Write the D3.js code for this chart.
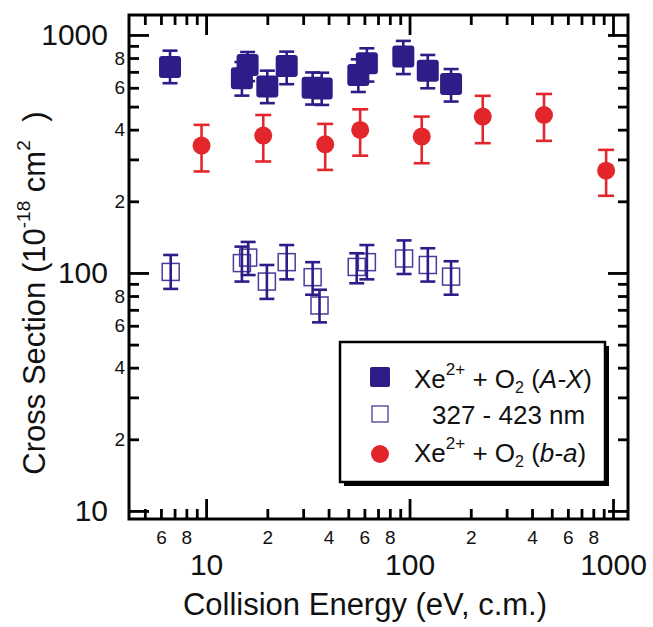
<!DOCTYPE html>
<html>
<head>
<meta charset="utf-8">
<script src="https://cdn.jsdelivr.net/npm/d3@7"></script>
<style>
  body { margin: 0; background: #fff; }
  svg { font-family: "Liberation Sans", Arial, sans-serif; }
</style>
</head>
<body>
<svg id="chart" width="653" height="627"></svg>
<script>
// Xe2+ + O2 (A-X), filled squares
const axEnergy = [6.65, 15.0, 16.0, 20.0, 24.9, 33.4, 37.0, 56.0, 61.7, 93.2, 122.9, 160];
const axSigma  = [734, 658, 748, 607, 741, 600, 595, 679, 760, 811, 708, 622];
const axLow    = [627, 556, 640, 517, 621, 510, 508, 576, 637, 685, 597, 525];
const axHigh   = [859, 770, 848, 708, 851, 696, 694, 790, 879, 944, 824, 719];

// 327 - 423 nm band, open squares
const bandEnergy = [6.7, 15.0, 16.1, 19.9, 24.9, 33.4, 36.1, 55.0, 61.7, 94, 123, 160];
const bandSigma  = [101, 110, 116, 92, 111, 96, 73, 106, 111, 115, 108, 96.5];
const bandLow    = [85.7, 92, 98, 77.8, 94, 81, 62, 90.5, 94, 99, 92, 81];
const bandHigh   = [119, 129, 135, 108, 131, 111, 85, 121, 131, 137, 127, 112];

// Xe2+ + O2 (b-a), red circles
const baEnergy = [9.5, 19.1, 38.5, 57.2, 114.8, 229, 458, 925];
const baSigma  = [343, 378, 347, 399, 374, 454, 461, 269];
const baLow    = [267, 294, 271, 311, 289, 351, 359, 211];
const baHigh   = [419, 461, 423, 487, 454, 555, 565, 329];

const xMajorTicks = [10, 100, 1000];
const xMinorLabels = [6, 8, 20, 40, 60, 80, 200, 400, 600, 800];
const yMajorTicks = [10, 100, 1000];
const yMinorLabels = [20, 40, 60, 80, 200, 400, 600, 800];

const navy = '#2e1c88';
const red = '#e3262b';

const svg = d3.select('#chart');
const pLeft = 129, pRight = 628, pTop = 15, pBottom = 519;

const x = d3.scaleLog().domain([4.18, 1185]).range([pLeft, pRight]);
const y = d3.scaleLog().domain([9.25, 1213]).range([pBottom, pTop]);

const isMajor = (d) => Math.abs(Math.log10(d) - Math.round(Math.log10(d))) < 1e-9;
const leading = (d) => String(Math.round(d / Math.pow(10, Math.floor(Math.log10(d) + 1e-9))));

const xMinor = x.ticks().filter((d) => !isMajor(d));
const yMinor = y.ticks().filter((d) => !isMajor(d));

function styleAxis(g) {
  g.select('.domain').remove();
  g.selectAll('.tick line').attr('stroke', '#000').attr('stroke-width', 2.8);
  g.selectAll('.tick text').attr('fill', '#111');
}

// bottom
svg.append('g').attr('transform', `translate(0,${pBottom})`)
  .call(d3.axisBottom(x).tickValues(xMinor).tickSize(-10).tickPadding(12)
    .tickFormat((d) => xMinorLabels.includes(d) ? leading(d) : ''))
  .call(styleAxis).attr('font-size', 19).attr('font-family', null);
svg.append('g').attr('transform', `translate(0,${pBottom})`)
  .call(d3.axisBottom(x).tickValues(xMajorTicks).tickSize(-20).tickPadding(35)
    .tickFormat(d3.format('d')))
  .call(styleAxis).attr('font-size', 30).attr('font-family', null);
// top
svg.append('g').attr('transform', `translate(0,${pTop})`)
  .call(d3.axisTop(x).tickValues(xMinor).tickSize(-10).tickFormat(''))
  .call(styleAxis);
svg.append('g').attr('transform', `translate(0,${pTop})`)
  .call(d3.axisTop(x).tickValues(xMajorTicks).tickSize(-20).tickFormat(''))
  .call(styleAxis);
// left
svg.append('g').attr('transform', `translate(${pLeft},0)`)
  .call(d3.axisLeft(y).tickValues(yMinor).tickSize(-10).tickPadding(4)
    .tickFormat((d) => yMinorLabels.includes(d) ? leading(d) : ''))
  .call(styleAxis).attr('font-size', 19).attr('font-family', null);
svg.append('g').attr('transform', `translate(${pLeft},0)`)
  .call(d3.axisLeft(y).tickValues(yMajorTicks).tickSize(-20).tickPadding(21)
    .tickFormat(d3.format('d')))
  .call(styleAxis).attr('font-size', 30).attr('font-family', null);
// right
svg.append('g').attr('transform', `translate(${pRight},0)`)
  .call(d3.axisRight(y).tickValues(yMinor).tickSize(-10).tickFormat(''))
  .call(styleAxis);
svg.append('g').attr('transform', `translate(${pRight},0)`)
  .call(d3.axisRight(y).tickValues(yMajorTicks).tickSize(-20).tickFormat(''))
  .call(styleAxis);

// frame
svg.append('rect')
  .attr('x', pLeft).attr('y', pTop)
  .attr('width', pRight - pLeft).attr('height', pBottom - pTop)
  .attr('fill', 'none').attr('stroke', '#000').attr('stroke-width', 3);

// error bars
function errorBars(energy, low, high, color, cap) {
  const g = svg.append('g').attr('stroke', color).attr('stroke-width', 2.6).attr('fill', 'none');
  energy.forEach((e, i) => {
    const cx = x(e);
    g.append('line').attr('x1', cx).attr('x2', cx).attr('y1', y(low[i])).attr('y2', y(high[i]));
    g.append('line').attr('x1', cx - cap / 2).attr('x2', cx + cap / 2).attr('y1', y(low[i])).attr('y2', y(low[i]));
    g.append('line').attr('x1', cx - cap / 2).attr('x2', cx + cap / 2).attr('y1', y(high[i])).attr('y2', y(high[i]));
  });
}

// A-X filled squares
errorBars(axEnergy, axLow, axHigh, navy, 15);
svg.append('g').selectAll('rect')
  .data(axEnergy)
  .enter()
  .append('rect')
  .attr('x', (d) => x(d) - 11)
  .attr('y', (d, i) => y(axSigma[i]) - 11)
  .attr('width', 22).attr('height', 22)
  .attr('rx', 3)
  .attr('fill', navy);

// band open squares
svg.append('g').selectAll('rect')
  .data(bandEnergy)
  .enter()
  .append('rect')
  .attr('x', (d) => x(d) - 8.5)
  .attr('y', (d, i) => y(bandSigma[i]) - 8.5)
  .attr('width', 17).attr('height', 17)
  .attr('fill', 'none')
  .attr('stroke', '#4a3c9c').attr('stroke-width', 1.5);
errorBars(bandEnergy, bandLow, bandHigh, navy, 15);

// b-a red circles
errorBars(baEnergy, baLow, baHigh, red, 16);
svg.append('g').selectAll('circle')
  .data(baEnergy)
  .enter()
  .append('circle')
  .attr('cx', (d) => x(d))
  .attr('cy', (d, i) => y(baSigma[i]))
  .attr('r', 9)
  .attr('fill', red);

// legend
const lg = svg.append('g');
lg.append('rect').attr('x', 344).attr('y', 346).attr('width', 265).attr('height', 140).attr('fill', '#000');
lg.append('rect').attr('x', 340).attr('y', 342).attr('width', 265).attr('height', 140)
  .attr('fill', '#fff').attr('stroke', '#000').attr('stroke-width', 2.5);
lg.append('rect').attr('x', 370).attr('y', 367).attr('width', 20).attr('height', 20).attr('rx', 2).attr('fill', navy);
lg.append('rect').attr('x', 372).attr('y', 406).attr('width', 16).attr('height', 16)
  .attr('fill', 'none').attr('stroke', '#4a3c9c').attr('stroke-width', 1.3);
lg.append('circle').attr('cx', 380).attr('cy', 454).attr('r', 9).attr('fill', red);

function reaction(yb, label) {
  const t = lg.append('text').attr('x', 414).attr('y', yb).attr('font-size', 26).attr('fill', '#111');
  t.append('tspan').text('Xe');
  t.append('tspan').attr('font-size', 17).attr('dy', -13).text('2+');
  t.append('tspan').attr('dy', 13).text(' + O');
  t.append('tspan').attr('font-size', 16).attr('dy', 5).text('2');
  t.append('tspan').attr('dy', -5).text(' (');
  t.append('tspan').attr('font-style', 'italic').text(label);
  t.append('tspan').text(')');
}
reaction(388, 'A-X');
lg.append('text').attr('x', 432).attr('y', 424).attr('font-size', 26).attr('fill', '#111').text('327 - 423 nm');
reaction(462, 'b-a');

// axis titles
svg.append('text')
  .attr('x', 365).attr('y', 615)
  .attr('text-anchor', 'middle').attr('font-size', 31).attr('fill', '#111')
  .text('Collision Energy (eV, c.m.)');

const yt = svg.append('text')
  .attr('transform', 'translate(45,293) rotate(-90)')
  .attr('text-anchor', 'middle').attr('font-size', 31).attr('fill', '#111');
yt.append('tspan').text('Cross Section (10');
yt.append('tspan').attr('font-size', 19).attr('dy', -15).text('-18');
yt.append('tspan').attr('dy', 15).text(' cm');
yt.append('tspan').attr('font-size', 19).attr('dy', -15).text('2');
yt.append('tspan').attr('dy', 15).attr('dx', 10).text(' )');
</script>
</body>
</html>
